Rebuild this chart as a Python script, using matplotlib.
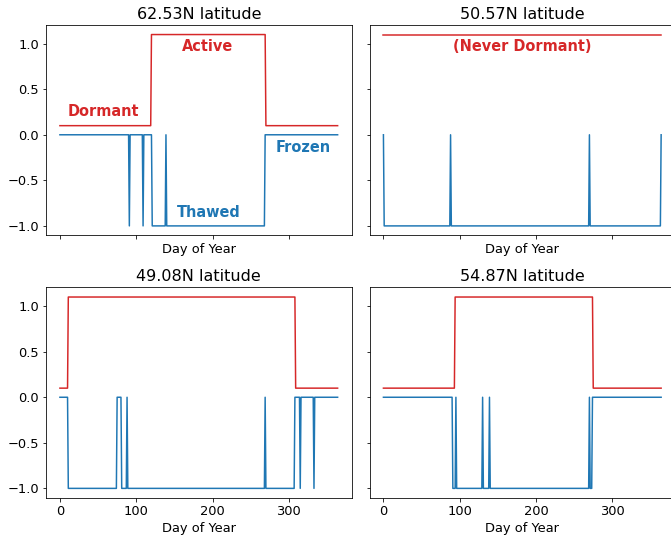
"""
Growing season vs. soil freeze/thaw state at four sites.
"""

import matplotlib
matplotlib.use("Agg")
import matplotlib.pyplot as plt
import numpy as np


DAYS = np.arange(0, 365)

TITLES = [
    "62.53N latitude",
    "50.57N latitude",
    "49.08N latitude",
    "54.87N latitude",
]

# active (growing) periods, inclusive day ranges -> 1.1, otherwise dormant 0.1
ACTIVE_62 = [(120, 269)]
ACTIVE_50 = [(0, 364)]
ACTIVE_49 = [(11, 308)]
ACTIVE_54 = [(94, 274)]

# thawed periods, inclusive day ranges -> -1, otherwise frozen 0
THAWED_62 = [(91, 91), (109, 109), (121, 138), (140, 268)]
THAWED_50 = [(1, 87), (89, 269), (271, 363)]
THAWED_49 = [(11, 74), (81, 87), (89, 268), (270, 307), (315, 315), (333, 333)]
THAWED_54 = [(91, 94), (96, 129), (131, 138), (140, 269), (271, 273)]

ACTIVE_VAL, DORMANT_VAL = 1.1, 0.1
THAWED_VAL, FROZEN_VAL = -1.0, 0.0

RED = "#d62728"
BLUE = "#1f77b4"


def _series(ranges, on, off):
    vals = np.full(len(DAYS), off)
    for a, b in ranges:
        vals[(DAYS >= a) & (DAYS <= b)] = on
    return vals


def main():
    plt.rcParams.update({
        "font.size": 13,
        "axes.titlesize": 16,
        "axes.labelsize": 13,
        "xtick.labelsize": 13,
        "ytick.labelsize": 13,
    })
    active = [ACTIVE_62, ACTIVE_50, ACTIVE_49, ACTIVE_54]
    thawed = [THAWED_62, THAWED_50, THAWED_49, THAWED_54]

    fig, axes = plt.subplots(2, 2, figsize=(671 / 72, 536 / 72), dpi=72,
                             sharex=True, sharey=True)
    fig.subplots_adjust(left=0.0686, right=1.006, bottom=0.071, top=0.9534,
                        wspace=0.059, hspace=0.247)

    for ax, title, act, thw in zip(axes.flat, TITLES, active, thawed):
        ax.plot(DAYS, _series(act, ACTIVE_VAL, DORMANT_VAL), color=RED)
        ax.plot(DAYS, _series(thw, THAWED_VAL, FROZEN_VAL), color=BLUE)
        ax.set_title(title)
        ax.set_xlabel("Day of Year")

    kw = dict(fontsize=14.5, fontweight="bold", ha="center", va="center")
    ax = axes[0, 0]
    ax.text(57, 0.25, "Dormant", color=RED, **kw)
    ax.text(193, 0.97, "Active", color=RED, **kw)
    ax.text(319, -0.14, "Frozen", color=BLUE, **kw)
    ax.text(195, -0.85, "Thawed", color=BLUE, **kw)

    axes[0, 1].text(182, 0.97, "(Never Dormant)", color=RED, **kw)

    fig.savefig("out.png", dpi=72)
    plt.close(fig)


if __name__ == "__main__":
    main()
